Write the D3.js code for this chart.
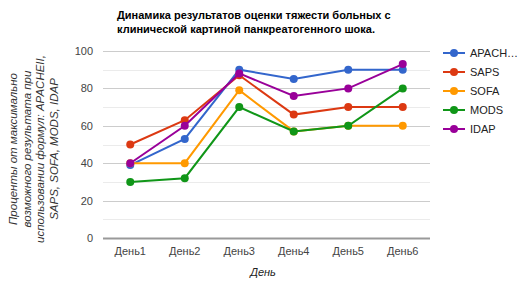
<!DOCTYPE html>
<html>
<head>
<meta charset="utf-8">
<script src="https://cdn.jsdelivr.net/npm/d3@7"></script>
<style>
  body { margin: 0; background: #fff; }
  text { font-family: "Liberation Sans", Arial, sans-serif; }
</style>
</head>
<body>
<svg id="chart"></svg>
<script>
// data
var days = ["День1", "День2", "День3", "День4", "День5", "День6"];
var seriesNames = ["APACH…", "SAPS", "SOFA", "MODS", "IDAP"];
var apache = [39, 53, 90, 85, 90, 90];
var saps = [50, 63, 87, 66, 70, 70];
var sofa = [40, 40, 79, 57, 60, 60];
var mods = [30, 32, 70, 57, 60, 80];
var idap = [40, 60, 88, 76, 80, 93];
var yTicks = [0, 20, 40, 60, 80, 100];
var colors = ["#3366cc", "#dc3912", "#ff9900", "#109618", "#990099"];

var allSeries = [apache, saps, sofa, mods, idap];

var width = 532, height = 290;
var margin = {top: 51, right: 102, bottom: 52, left: 103};
var w = width - margin.left - margin.right;
var h = height - margin.top - margin.bottom;

var svg = d3.select("#chart")
    .attr("width", width)
    .attr("height", height);

var x = d3.scaleBand().domain(days).range([0, w]);
var y = d3.scaleLinear().domain([0, 100]).range([h, 0]);

var g = svg.append("g")
    .attr("transform", "translate(" + margin.left + "," + margin.top + ")");

// minor grid
g.selectAll(".minor")
    .data(d3.range(10, 100, 20))
    .enter().append("line")
    .attr("x1", 0).attr("x2", w)
    .attr("y1", function(d) { return Math.round(y(d)) + 0.5; })
    .attr("y2", function(d) { return Math.round(y(d)) + 0.5; })
    .attr("stroke", "#ebebeb");

// major grid
g.selectAll(".major")
    .data(yTicks.slice(1))
    .enter().append("line")
    .attr("x1", 0).attr("x2", w)
    .attr("y1", function(d) { return Math.round(y(d)) + 0.5; })
    .attr("y2", function(d) { return Math.round(y(d)) + 0.5; })
    .attr("stroke", "#cccccc");

// y labels
var yAxis = d3.axisLeft(y).tickValues(yTicks).tickSize(0).tickPadding(10);
g.append("g").call(yAxis)
    .call(function(s) { s.select(".domain").remove(); })
    .selectAll("text")
    .attr("fill", "#444")
    .style("font-size", "11px");

// x labels
var xAxis = d3.axisBottom(x).tickSize(0).tickPadding(9);
g.append("g")
    .attr("transform", "translate(0," + h + ")")
    .call(xAxis)
    .call(function(s) { s.select(".domain").remove(); })
    .selectAll("text")
    .attr("fill", "#444")
    .style("font-size", "11px");

// baseline
g.append("line")
    .attr("x1", 0).attr("x2", w)
    .attr("y1", Math.round(y(0)) + 0.5).attr("y2", Math.round(y(0)) + 0.5)
    .attr("stroke", "#999")
    .attr("stroke-width", 2);

var line = d3.line()
    .x(function(d, i) { return x(days[i]) + x.bandwidth() / 2; })
    .y(function(d) { return y(d); });

allSeries.forEach(function(vals, k) {
    g.append("path")
        .datum(vals)
        .attr("d", line)
        .attr("fill", "none")
        .attr("stroke", colors[k])
        .attr("stroke-width", 2);
    g.selectAll(".pt" + k)
        .data(vals)
        .enter().append("circle")
        .attr("cx", function(d, i) { return x(days[i]) + x.bandwidth() / 2; })
        .attr("cy", function(d) { return y(d); })
        .attr("r", 4)
        .attr("fill", colors[k]);
});

// legend
var legend = svg.append("g").attr("transform", "translate(443,53)");
seriesNames.forEach(function(name, k) {
    var item = legend.append("g").attr("transform", "translate(0," + (k * 19) + ")");
    item.append("line")
        .attr("x1", 0).attr("x2", 22)
        .attr("stroke", colors[k]).attr("stroke-width", 2);
    item.append("circle").attr("cx", 11).attr("r", 4).attr("fill", colors[k]);
    item.append("text")
        .attr("x", 27).attr("y", 4)
        .attr("fill", "#222")
        .style("font-size", "11px")
        .text(name);
});

// title
var title = svg.append("text")
    .attr("x", 117).attr("y", 19)
    .attr("fill", "#000")
    .style("font-size", "11px")
    .style("font-weight", "bold");
title.append("tspan").attr("x", 117).text("Динамика результатов оценки тяжести больных с");
title.append("tspan").attr("x", 117).attr("dy", 14).text("клинической картиной панкреатогенного шока.");

// x axis title
svg.append("text")
    .attr("x", 263).attr("y", 276)
    .attr("text-anchor", "middle")
    .attr("fill", "#222")
    .style("font-size", "11px")
    .style("font-style", "italic")
    .text("День");

// y axis title
var yTitleLines = ["Проценты от максимально", "возможного результата при",
    "использовании формул: APACHEII,", "SAPS, SOFA, MODS, IDAP"];
var yt = svg.append("text")
    .attr("transform", "translate(17,149) rotate(-90)")
    .attr("text-anchor", "middle")
    .attr("fill", "#333")
    .style("font-size", "11.5px")
    .style("font-style", "italic");
yTitleLines.forEach(function(t, i) {
    yt.append("tspan").attr("x", 0).attr("dy", i === 0 ? 0 : 13.5).text(t);
});
</script>
</body>
</html>
